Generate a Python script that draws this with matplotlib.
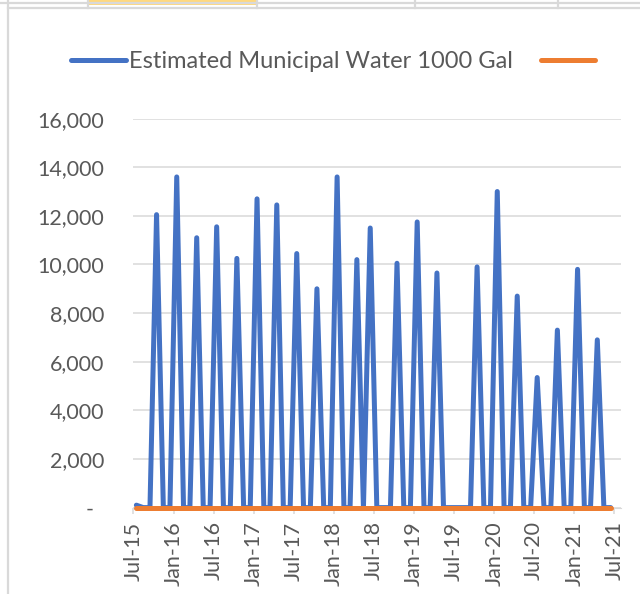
import matplotlib
matplotlib.use('Agg')
import matplotlib.pyplot as plt
import matplotlib.dates as mdates
from matplotlib.ticker import FuncFormatter
from matplotlib.lines import Line2D
from matplotlib.patches import Rectangle
from matplotlib.transforms import ScaledTranslation
import pandas as pd

# monthly values, Jul-15 .. Jun-21 (one row per 12 months)
water = [
    100, 0, 0, 12050, 0, 0, 13600, 0, 0, 11100, 0, 0,        # Jul-15 .. Jun-16
    11550, 0, 0, 10250, 0, 0, 12700, 0, 0, 12450, 0, 0,      # Jul-16 .. Jun-17
    10450, 0, 0, 9000, 0, 0, 13600, 0, 0, 10200, 0, 11500,   # Jul-17 .. Jun-18
    0, 0, 0, 10050, 0, 0, 11750, 0, 0, 9650, 0, 0,           # Jul-18 .. Jun-19
    0, 0, 0, 9900, 0, 0, 13000, 0, 0, 8700, 0, 0,            # Jul-19 .. Jun-20
    5350, 0, 0, 7300, 0, 0, 9800, 0, 0, 6900, 0, 0,          # Jul-20 .. Jun-21
]
second = [
    0, 0, 0, 0, 0, 0, 0, 0, 0, 0, 0, 0,
    0, 0, 0, 0, 0, 0, 0, 0, 0, 0, 0, 0,
    0, 0, 0, 0, 0, 0, 0, 0, 0, 0, 0, 0,
    0, 0, 0, 0, 0, 0, 0, 0, 0, 0, 0, 0,
    0, 0, 0, 0, 0, 0, 0, 0, 0, 0, 0, 0,
    0, 0, 0, 0, 0, 0, 0, 0, 0, 0, 0, 0,
]
series_name = 'Estimated Municipal Water 1000 Gal'
months = pd.date_range('2015-07-01', periods=len(water), freq='MS')
# excel puts each point in the middle of its month slot
dates = months + pd.Timedelta(days=14)

blue = '#4472C4'
orange = '#ED7D31'
grid = '#D9D9D9'
txt = '#595959'
plt.rcParams['font.family'] = ['Lato', 'DejaVu Sans']

W, H = 640, 594
fig = plt.figure(figsize=(W / 100, H / 100), dpi=100)

# spreadsheet bits around the chart
def px_line(x0, y0, x1, y1, c=grid, lw=1.6):
    fig.add_artist(Line2D([x0 / W, x1 / W], [1 - y0 / H, 1 - y1 / H], color=c, lw=lw))

px_line(0, 3, 640, 3)
px_line(7.5, 8, 640, 8)
px_line(7.5, 0, 7.5, 594)
for xs in [88, 257, 415, 558]:
    px_line(xs, 0, xs, 8)
fig.add_artist(Rectangle((88 / W, 1 - 4.5 / H), (257 - 88) / W, 4.5 / H,
                         color='#FFD87F', lw=0))

left, right, top, bottom = 133.3, 621, 118.6, 507.6
ax = fig.add_axes([left / W, 1 - bottom / H, (right - left) / W, (bottom - top) / H])

lw = 3.6
ax.plot(dates, water, color=blue, lw=lw, solid_capstyle='round',
        solid_joinstyle='round', zorder=3, clip_on=False)
ax.plot(dates, second, color=orange, lw=lw, solid_capstyle='round',
        solid_joinstyle='round', zorder=4, clip_on=False)

ax.set_xlim(pd.Timestamp('2015-07-01'), pd.Timestamp('2021-08-01'))
ax.set_ylim(0, 16000)
ax.set_yticks(range(0, 16001, 2000))
ax.yaxis.set_major_formatter(FuncFormatter(lambda v, p: '-' if v == 0 else f'{v:,.0f}'))
ax.xaxis.set_major_locator(mdates.MonthLocator(bymonth=[1, 7]))
ax.xaxis.set_major_formatter(mdates.DateFormatter('%b-%y'))

ax.grid(axis='y', color=grid, lw=1.1)
ax.set_axisbelow(True)
for s in ['top', 'right', 'left']:
    ax.spines[s].set_visible(False)
ax.spines['bottom'].set_color(grid)
ax.tick_params(axis='y', length=0, pad=21, labelsize=15.5, labelcolor=txt)
ax.tick_params(axis='x', length=4, width=1.1, color=grid, pad=6, labelsize=15.5,
               labelcolor=txt, labelrotation=90)

# accounting style zero: dash sits left of the digits' right edge
zero_lab = ax.yaxis.get_major_ticks()[0].label1
zero_lab.set_transform(zero_lab.get_transform() +
                       ScaledTranslation(-11 / 100, 0, fig.dpi_scale_trans))

fig.legend([Line2D([], [], color=blue, lw=lw, solid_capstyle='round'),
            Line2D([], [], color=orange, lw=lw, solid_capstyle='round')],
           [series_name, ''], loc='center', bbox_to_anchor=(0.523, 1 - 62 / H),
           ncol=2, frameon=False, fontsize=17, labelcolor=txt,
           handlelength=2.3, handletextpad=0.13, columnspacing=1.2, borderpad=0)

fig.savefig('out.png', dpi=100)
